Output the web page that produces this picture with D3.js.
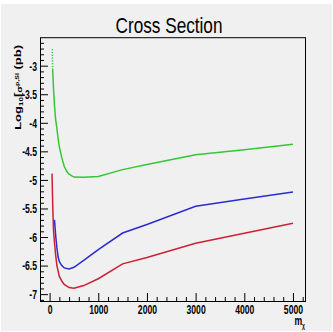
<!DOCTYPE html>
<html>
<head>
<meta charset="utf-8">
<script src="https://cdn.jsdelivr.net/npm/d3@7"></script>
<style>
  body { margin: 0; background: #ffffff; }
  text { font-family: "Liberation Sans", Arial, Helvetica, sans-serif; }
</style>
</head>
<body>
<script>
// data (m_chi, log10 sigma)
var greenMass = [55, 62, 70, 80, 100, 125, 150, 175, 200, 250, 300, 350, 400, 500, 700, 1000, 1500, 2000, 3000, 4000, 5000];
var greenVal  = [-2.71, -3.05, -3.2, -3.4, -3.7, -3.95, -4.1, -4.28, -4.42, -4.61, -4.76, -4.85, -4.9, -4.95, -4.955, -4.94, -4.82, -4.73, -4.56, -4.47, -4.375];

var blueMass = [100, 125, 150, 175, 200, 250, 300, 400, 500, 700, 1000, 1500, 2000, 3000, 4000, 5000];
var blueVal  = [-5.7, -5.98, -6.19, -6.35, -6.43, -6.5, -6.54, -6.56, -6.53, -6.41, -6.22, -5.93, -5.78, -5.46, -5.335, -5.21];

var redMass = [50, 60, 70, 80, 100, 125, 150, 200, 250, 300, 400, 500, 700, 1000, 1500, 2000, 3000, 4000, 5000];
var redVal  = [-4.89, -5.3, -5.62, -5.88, -6.1, -6.32, -6.5, -6.69, -6.77, -6.83, -6.885, -6.895, -6.85, -6.73, -6.47, -6.36, -6.11, -5.935, -5.76];

var xTicks = [0, 1000, 2000, 3000, 4000, 5000];
var yTicks = [-7, -6.5, -6, -5.5, -5, -4.5, -4, -3.5, -3];

var W = 333, H = 332;
var frame = {left: 40, right: 305, top: 37.7, bottom: 301};
var sx = 0.72; // text looks squeezed sideways

var svg = d3.select("body").append("svg")
    .attr("width", W)
    .attr("height", H);

// canvas background
svg.append("rect")
    .attr("x", 1).attr("y", 4)
    .attr("width", W - 2).attr("height", H - 5)
    .attr("fill", "#f0f0f0");

var x = d3.scaleLinear().domain([-197.5, 5247.5]).range([frame.left, frame.right]);
var y = d3.scaleLinear().domain([-7.12, -2.51]).range([frame.bottom, frame.top]);

// minor ticks
var xMinor = d3.range(0, 5201, 200).filter(function(d) { return xTicks.indexOf(d) < 0; });
var yMinor = d3.range(-71, -25, 1).map(function(d) { return d / 10; })
    .filter(function(d) { return Math.abs(d * 2 - Math.round(d * 2)) > 1e-6; });

svg.append("g")
    .attr("transform", "translate(0," + frame.bottom + ")")
    .call(d3.axisBottom(x).tickValues(xMinor).tickSize(-4).tickFormat(""))
    .call(function(g) { g.select(".domain").remove(); });

svg.append("g")
    .attr("transform", "translate(" + frame.left + ",0)")
    .call(d3.axisLeft(y).tickValues(yMinor).tickSize(-4).tickFormat(""))
    .call(function(g) { g.select(".domain").remove(); });

// major ticks + labels
var gx = svg.append("g")
    .attr("transform", "translate(0," + frame.bottom + ")")
    .call(d3.axisBottom(x).tickValues(xTicks).tickSize(-8).tickPadding(4).tickFormat(function(d) { return String(d); }));
gx.select(".domain").remove();
gx.selectAll("text")
    .attr("y", 12.8).attr("dy", null)
    .attr("transform", "scale(" + sx + ",1)")
    .style("font-size", "12px").style("font-weight", "bold").attr("fill", "#000");

var gy = svg.append("g")
    .attr("transform", "translate(" + frame.left + ",0)")
    .call(d3.axisLeft(y).tickValues(yTicks).tickSize(-8).tickPadding(3).tickFormat(function(d) { return String(d); }));
gy.select(".domain").remove();
gy.selectAll("text")
    .attr("x", -3 / sx).attr("dy", "0.36em")
    .attr("transform", "scale(" + sx + ",1)")
    .style("font-size", "12px").style("font-weight", "bold").attr("fill", "#000");

svg.selectAll(".tick line").attr("stroke", "#000").attr("stroke-width", 1);

// frame
svg.append("rect")
    .attr("x", frame.left + 0.5).attr("y", frame.top)
    .attr("width", frame.right - frame.left).attr("height", frame.bottom - frame.top + 0.5)
    .attr("fill", "none").attr("stroke", "#000").attr("stroke-width", 1);

// curves
var line = d3.line()
    .x(function(d) { return x(d[0]); })
    .y(function(d) { return y(d[1]); });

function pairs(m, v) { return m.map(function(d, i) { return [d, v[i]]; }); }

var green = pairs(greenMass, greenVal);
var series = [
  {pts: green.slice(1), color: "#33c833", dash: null},
  {pts: green.slice(0, 2), color: "#33c833", dash: "1.2,1.6"},
  {pts: pairs(blueMass, blueVal), color: "#2b2bd2", dash: null},
  {pts: pairs(redMass, redVal), color: "#cc2036", dash: null}
];

svg.selectAll(".curve")
    .data(series)
  .enter().append("path")
    .attr("class", "curve")
    .attr("d", function(d) { return line(d.pts); })
    .attr("fill", "none")
    .attr("stroke", function(d) { return d.color; })
    .attr("stroke-width", 1.5)
    .attr("stroke-dasharray", function(d) { return d.dash; });

// title
svg.append("text")
    .attr("transform", "translate(169,33) scale(0.8,1)")
    .attr("text-anchor", "middle")
    .style("font-size", "21.5px")
    .text("Cross Section");

// y axis title
var yt = svg.append("text")
    .attr("transform", "translate(21,45) scale(" + sx + ",1) rotate(-90)")
    .attr("text-anchor", "end")
    .style("font-size", "13px")
    .style("font-weight", "bold");
yt.append("tspan").text("Log");
yt.append("tspan").attr("dy", 3).style("font-size", "8px").text("10");
yt.append("tspan").attr("dy", -3).text("[");
yt.append("tspan").attr("dy", 1).style("font-size", "10px").text("σ");
yt.append("tspan").attr("dy", -4).style("font-size", "7px").text("p,SI");
yt.append("tspan").attr("dy", 3).text(" (pb)");

// x axis title
var xt = svg.append("text")
    .attr("transform", "translate(305,325) scale(" + sx + ",1)")
    .attr("text-anchor", "end")
    .style("font-size", "12px")
    .style("font-weight", "bold");
xt.append("tspan").text("m");
xt.append("tspan").attr("dy", 3).style("font-size", "7px").text("χ");
</script>
</body>
</html>
